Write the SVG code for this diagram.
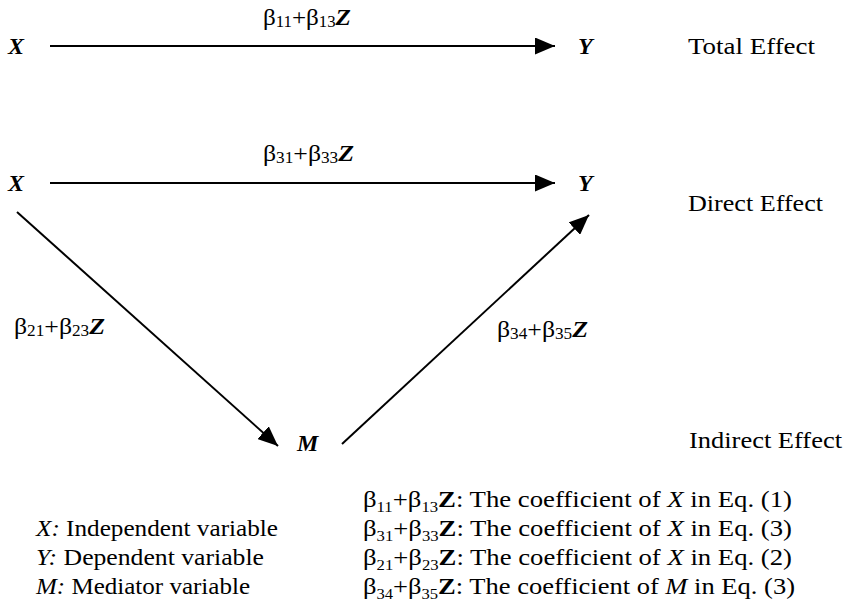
<svg xmlns="http://www.w3.org/2000/svg" width="848" height="609" viewBox="0 0 848 609">
<style>
text{font-family:"Liberation Serif","Times New Roman",serif;fill:#000}
.v{font-weight:bold;font-style:italic;font-size:24px}
.lab{font-size:24px}
.eff{font-size:24px}
.leg{font-size:24px}
.sub{font-size:16px}
.sb{font-size:15px}
.z{font-weight:bold;font-style:italic}
.zb{font-weight:bold}
.i{font-style:italic}
.ln{stroke:#000;stroke-width:2;fill:none}
</style>
<defs>
<marker id="ah" viewBox="0 0 10 10" refX="10" refY="5" markerWidth="20" markerHeight="17" markerUnits="userSpaceOnUse" orient="auto" preserveAspectRatio="none">
<path d="M0,0 L10,5 L0,10 z" fill="#000"/>
</marker>
</defs>
<g id="connectors">
<line class="ln" x1="50" y1="46" x2="555" y2="46" marker-end="url(#ah)"/>
<line class="ln" x1="50" y1="183" x2="555" y2="183" marker-end="url(#ah)"/>
<line class="ln" x1="17" y1="212" x2="278" y2="446" marker-end="url(#ah)"/>
<line class="ln" x1="342" y1="444" x2="589" y2="215" marker-end="url(#ah)"/>
</g>
<g id="node-x1"><text class="v" x="8" y="54">X</text></g>
<g id="node-y1"><text class="v" x="578" y="54">Y</text></g>
<g id="node-x2"><text class="v" x="8" y="191">X</text></g>
<g id="node-y2"><text class="v" x="578" y="191">Y</text></g>
<g id="node-m"><text class="v" x="297" y="451">M</text></g>
<g id="edge-labels">
<text class="lab" x="263" y="25" textLength="88" lengthAdjust="spacingAndGlyphs">β<tspan class="sub" dy="2">11</tspan><tspan dy="-2">+β</tspan><tspan class="sub" dy="2">13</tspan><tspan class="z" dy="-2">Z</tspan></text>
<text class="lab" x="263" y="161" textLength="91" lengthAdjust="spacingAndGlyphs">β<tspan class="sub" dy="2">31</tspan><tspan dy="-2">+β</tspan><tspan class="sub" dy="2">33</tspan><tspan class="z" dy="-2">Z</tspan></text>
<text class="lab" x="14" y="334" textLength="91" lengthAdjust="spacingAndGlyphs">β<tspan class="sub" dy="2">21</tspan><tspan dy="-2">+β</tspan><tspan class="sub" dy="2">23</tspan><tspan class="z" dy="-2">Z</tspan></text>
<text class="lab" x="497" y="337" textLength="91" lengthAdjust="spacingAndGlyphs">β<tspan class="sub" dy="2">34</tspan><tspan dy="-2">+β</tspan><tspan class="sub" dy="2">35</tspan><tspan class="z" dy="-2">Z</tspan></text>
</g>
<g id="effects">
<text class="eff" x="688" y="54" textLength="127" lengthAdjust="spacingAndGlyphs">Total Effect</text>
<text class="eff" x="688" y="211" textLength="135" lengthAdjust="spacingAndGlyphs">Direct Effect</text>
<text class="eff" x="689" y="448" textLength="153" lengthAdjust="spacingAndGlyphs">Indirect Effect</text>
</g>
<g id="legend-left">
<text class="leg" x="36" y="536" textLength="242" lengthAdjust="spacingAndGlyphs"><tspan class="i">X:</tspan> Independent variable</text>
<text class="leg" x="36" y="565" textLength="228" lengthAdjust="spacingAndGlyphs"><tspan class="i">Y:</tspan> Dependent variable</text>
<text class="leg" x="36" y="594" textLength="214" lengthAdjust="spacingAndGlyphs"><tspan class="i">M:</tspan> Mediator variable</text>
</g>
<g id="legend-right">
<text class="leg" x="363" y="507" textLength="429" lengthAdjust="spacingAndGlyphs">β<tspan class="sb" dy="5">11</tspan><tspan dy="-5">+β</tspan><tspan class="sb" dy="5">13</tspan><tspan class="zb" dy="-5">Z</tspan>: The coefficient of <tspan class="i">X</tspan> in Eq. (1)</text>
<text class="leg" x="363" y="536" textLength="429" lengthAdjust="spacingAndGlyphs">β<tspan class="sb" dy="5">31</tspan><tspan dy="-5">+β</tspan><tspan class="sb" dy="5">33</tspan><tspan class="zb" dy="-5">Z</tspan>: The coefficient of <tspan class="i">X</tspan> in Eq. (3)</text>
<text class="leg" x="363" y="565" textLength="429" lengthAdjust="spacingAndGlyphs">β<tspan class="sb" dy="5">21</tspan><tspan dy="-5">+β</tspan><tspan class="sb" dy="5">23</tspan><tspan class="zb" dy="-5">Z</tspan>: The coefficient of <tspan class="i">X</tspan> in Eq. (2)</text>
<text class="leg" x="363" y="594" textLength="432" lengthAdjust="spacingAndGlyphs">β<tspan class="sb" dy="5">34</tspan><tspan dy="-5">+β</tspan><tspan class="sb" dy="5">35</tspan><tspan class="zb" dy="-5">Z</tspan>: The coefficient of <tspan class="i">M</tspan> in Eq. (3)</text>
</g>
</svg>
